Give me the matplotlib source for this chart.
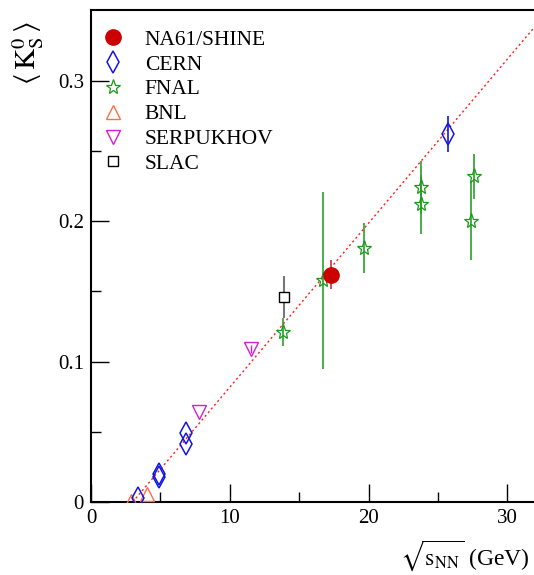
import matplotlib
matplotlib.use("Agg")
import matplotlib.pyplot as plt
from matplotlib.lines import Line2D
import numpy as np

plt.rcParams['font.family'] = ['Liberation Serif', 'DejaVu Serif']
plt.rcParams['mathtext.fontset'] = 'stix'

# ---- data ----
na61_x = [17.3]
na61_y = [0.162]
na61_err = [0.010]

cern_x = [3.4, 4.9, 4.9, 6.85, 6.85, 25.7]
cern_y = [0.003, 0.018, 0.020, 0.041, 0.049, 0.262]
cern_err = [0.0, 0.0, 0.0, 0.0, 0.0, 0.013]

fnal_x = [13.85, 16.7, 19.7, 23.8, 23.8, 27.4, 27.6]
fnal_y = [0.121, 0.158, 0.181, 0.212, 0.224, 0.200, 0.232]
fnal_err = [0.010, 0.063, 0.018, 0.021, 0.019, 0.028, 0.016]

bnl_x = [2.9, 4.0]
bnl_y = [0.001, 0.006]

serp_x = [7.8, 11.5]
serp_y = [0.064, 0.109]
serp_err = [0.0, 0.003]

slac_x = [13.9]
slac_y = [0.146]
slac_err = [0.015]

# linear fit line parameters
fit_slope = 0.01168
fit_x0 = 3.0
fit_xrange = [3.0, 32.0]

fig = plt.figure(figsize=(5.34, 5.75), dpi=100)
ax = fig.add_axes([91/534, 73/575, 1.0 - 91/534 + 0.002, 492/575])
ax.set_xlim(0, 32)
ax.set_ylim(0, 0.3504)

fx = np.array(fit_xrange)
ax.plot(fx, fit_slope * (fx - fit_x0), color='#ff2020', lw=1.0,
        linestyle=(0, (1.5, 2.0)), zorder=1)

styles = {
    'NA61/SHINE': dict(marker='o', ms=11, mfc='#cc0000', mec='#cc0000', mew=1.0),
    'CERN': dict(marker='d', ms=11, mfc='none', mec='#1515e0', mew=1.1),
    'FNAL': dict(marker='*', ms=11, mfc='none', mec='#1a9a1a', mew=0.9),
    'BNL': dict(marker='^', ms=10, mfc='none', mec='#ff7040', mew=1.0),
    'SERPUKHOV': dict(marker='v', ms=10, mfc='none', mec='#d020d0', mew=1.0),
    'SLAC': dict(marker='s', ms=7, mfc='white', mec='black', mew=1.0),
}

ax.errorbar(slac_x, slac_y, yerr=slac_err, ls='none', ecolor='#777777',
            elinewidth=1.5, capsize=0, zorder=3, **styles['SLAC'])
ax.errorbar(fnal_x, fnal_y, yerr=fnal_err, ls='none', ecolor='#2aa02a',
            elinewidth=1.2, capsize=0, zorder=3, **styles['FNAL'])
ax.errorbar(cern_x, cern_y, yerr=cern_err, ls='none', ecolor='#1515e0',
            elinewidth=1.2, capsize=0, zorder=3, **styles['CERN'])
ax.plot(bnl_x, bnl_y, ls='none', zorder=3, **styles['BNL'])
ax.errorbar(serp_x, serp_y, yerr=serp_err, ls='none', ecolor='#d020d0',
            elinewidth=1.0, capsize=0, zorder=3, **styles['SERPUKHOV'])
ax.errorbar(na61_x, na61_y, yerr=na61_err, ls='none', ecolor='#cc3333',
            elinewidth=1.2, capsize=0, zorder=4, **styles['NA61/SHINE'])

order = ['NA61/SHINE', 'CERN', 'FNAL', 'BNL', 'SERPUKHOV', 'SLAC']
handles = [Line2D([], [], ls='none', **styles[k]) for k in order]
ax.legend(handles, order, loc='upper left',
          bbox_to_anchor=(0.0, 1.0 - 9/492), frameon=False, fontsize=15.5,
          handletextpad=1.0, labelspacing=0.22, borderpad=0.3,
          handlelength=1.0, borderaxespad=0.2)

ax.set_xticks([0, 10, 20, 30])
ax.set_xticks([5, 15, 25], minor=True)
ax.set_yticks([0, 0.1, 0.2, 0.3])
ax.set_yticks([0.05, 0.15, 0.25], minor=True)
ax.set_yticklabels(['0', '0.1', '0.2', '0.3'])
ax.tick_params(which='major', direction='in', length=13, width=1.0,
               labelsize=15, pad=5)
ax.tick_params(which='minor', direction='in', length=7, width=1.0)
for s in ax.spines.values():
    s.set_linewidth(1.5)
ax.spines['right'].set_visible(False)

fig.text(28/534, 1 - 53/575, r'$\langle\,\mathrm{K}^{0}_{\mathrm{S}}\,\rangle$',
         rotation=90, ha='center', va='center', fontsize=21)
fig.text(530/534, 1 - 556/575, r'$\sqrt{\mathrm{s}_{\mathrm{NN}}}$ (GeV)',
         ha='right', va='center', fontsize=17)

fig.savefig('out.png', dpi=100)
